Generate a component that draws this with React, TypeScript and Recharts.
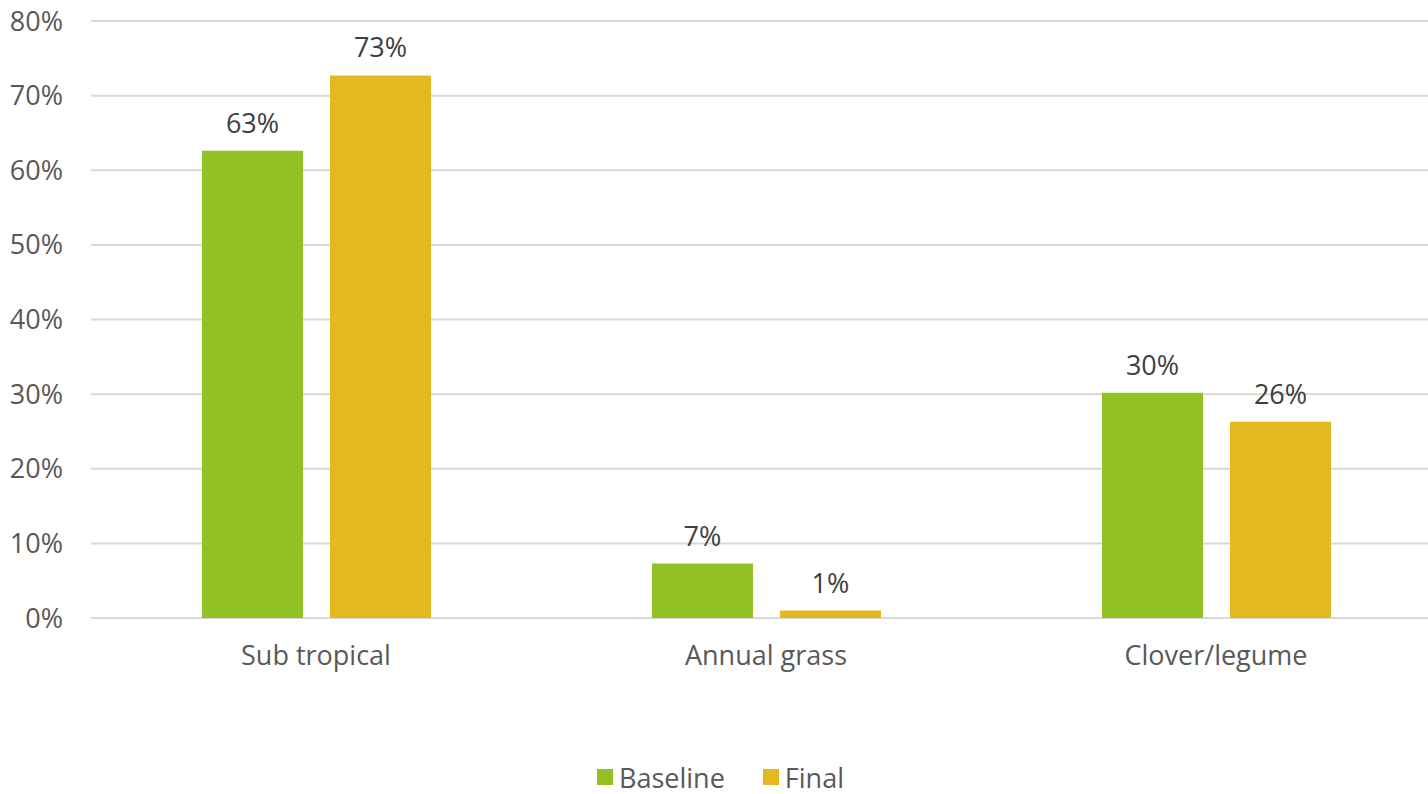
import { Bar, BarChart, CartesianGrid, LabelList, Legend, XAxis, YAxis } from "recharts";

// pasture composition, percent of sward
const CATEGORIES = ["Sub tropical", "Annual grass", "Clover/legume"];
const BASELINE = [62.6, 7.3, 30.2];
const FINAL = [72.7, 1.0, 26.3];
const Y_TICKS = [0, 10, 20, 30, 40, 50, 60, 70, 80];

const SERIES = [
  { key: "baseline", name: "Baseline", color: "#92C123" },
  { key: "final", name: "Final", color: "#E5B820" },
];

const FONT = "'Open Sans', sans-serif";
const AXIS_TICK = { fill: "#595959", fontSize: 27, fontFamily: FONT };
const LABEL_STYLE = { fill: "#404040", fontSize: 27, fontFamily: FONT };

const data = CATEGORIES.map((name, i) => ({
  name,
  baseline: BASELINE[i],
  final: FINAL[i],
}));

function pct(v: number) {
  return `${Math.round(v)}%`;
}

function LegendContent() {
  return (
    <div
      style={{
        display: "flex",
        justifyContent: "center",
        alignItems: "center",
        gap: 38,
        height: 30,
        fontFamily: FONT,
        fontSize: 27,
        color: "#595959",
      }}
    >
      {SERIES.map((s) => (
        <div key={s.key} style={{ display: "flex", alignItems: "center", gap: 6 }}>
          <span style={{ width: 16, height: 16, background: s.color, display: "inline-block" }} />
          <span>{s.name}</span>
        </div>
      ))}
    </div>
  );
}

export default function App() {
  return (
    <div
      style={{
        position: "absolute",
        left: 0,
        top: 0,
        width: 1428,
        height: 794,
        background: "#fff",
        overflow: "hidden",
      }}
    >
      {/* plot runs a little past the right edge so the last band is clipped */}
      <BarChart
        width={1428}
        height={794}
        data={data}
        margin={{ top: 21, right: -13, bottom: 0, left: 0 }}
        barGap={27}
      >
        <CartesianGrid stroke="#D9D9D9" strokeWidth={2} vertical={false} />
        <XAxis
          dataKey="name"
          tick={AXIS_TICK}
          axisLine={false}
          tickLine={false}
          tickSize={0}
          tickMargin={28}
          height={146}
        />
        <YAxis
          domain={[0, 80]}
          ticks={Y_TICKS}
          tickFormatter={(v) => `${v}%`}
          tick={AXIS_TICK}
          axisLine={false}
          tickLine={false}
          tickSize={0}
          tickMargin={28}
          width={91}
        />
        <Legend verticalAlign="bottom" content={<LegendContent />} wrapperStyle={{ bottom: 2 }} />
        {SERIES.map((s) => (
          <Bar key={s.key} dataKey={s.key} name={s.name} fill={s.color} barSize={101} isAnimationActive={false}>
            <LabelList dataKey={s.key} position="top" offset={18} formatter={pct} style={LABEL_STYLE} />
          </Bar>
        ))}
      </BarChart>
    </div>
  );
}
